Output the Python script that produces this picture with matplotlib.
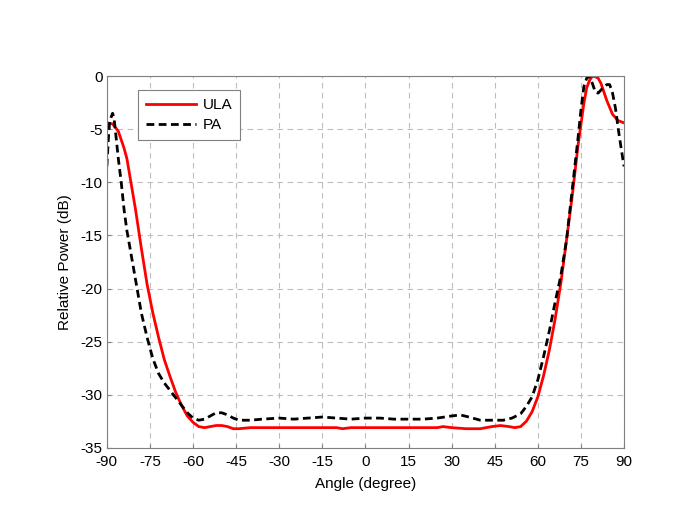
import matplotlib.pyplot as plt

plt.rcParams['font.family'] = ['Liberation Sans', 'DejaVu Sans']
plt.rcParams['axes.unicode_minus'] = False

# ULA curve (angle in degree, relative power in dB)
ula_angle = [-90, -88, -86, -84, -83, -82, -80, -78, -76, -74, -72, -70, -68, -66, -64, -62, -60,
             -58, -56, -54, -52, -50, -48, -46, -44, -40, -35, -30, -25, -20, -15, -10, -8, -5,
             0, 10, 20, 25, 27, 30, 35, 40, 44, 47, 50, 52, 54, 56, 58, 60, 62, 64, 66, 68, 70,
             72, 74, 76, 77, 78, 79, 80, 81, 82, 84, 86, 88, 90]
ula_power = [-4.4, -4.5, -5.2, -6.8, -7.8, -9.4, -12.6, -16.2, -19.6, -22.3, -24.6, -26.7, -28.3,
             -29.8, -31.0, -32.0, -32.6, -33.0, -33.1, -33.0, -32.9, -32.9, -33.0, -33.2, -33.2,
             -33.1, -33.1, -33.1, -33.1, -33.1, -33.1, -33.1, -33.2, -33.1, -33.1, -33.1, -33.1,
             -33.1, -33.0, -33.1, -33.2, -33.2, -33.0, -32.9, -33.0, -33.1, -33.0, -32.5, -31.6,
             -30.2, -28.2, -25.8, -22.9, -19.5, -15.4, -11.2, -6.5, -2.6, -1.1, -0.4, 0.0,
             -0.05, -0.2, -0.7, -2.3, -3.6, -4.2, -4.4]

# PA curve
pa_angle = [-90, -89.5, -89, -88, -87.5, -87, -86, -85, -84, -83, -82, -80, -78, -76, -74, -72,
            -70, -68, -66, -64, -62, -60, -58, -56, -54, -52, -50, -48, -46, -44, -40, -36, -30,
            -25, -20, -15, -10, -5, 0, 5, 10, 15, 20, 25, 30, 33, 36, 40, 44, 48, 51, 54, 56, 58,
            60, 62, 64, 66, 68, 70, 72, 74, 75, 76, 77, 78, 79, 80, 81, 82, 83, 84, 85, 86, 87,
            88, 89, 90]
pa_power = [-8.5, -6.0, -4.2, -3.5, -4.0, -5.2, -7.8, -10.0, -12.6, -14.6, -16.1, -19.2, -22.3,
            -24.6, -26.6, -28.0, -28.9, -29.6, -30.3, -31.0, -31.7, -32.2, -32.4, -32.3, -32.0,
            -31.7, -31.7, -31.9, -32.2, -32.4, -32.4, -32.3, -32.2, -32.3, -32.2, -32.1, -32.2,
            -32.3, -32.2, -32.2, -32.3, -32.3, -32.3, -32.2, -32.0, -31.9, -32.1, -32.4, -32.4,
            -32.4, -32.2, -31.8, -31.1, -30.2, -28.6, -26.4, -24.0, -21.3, -18.8, -15.4, -10.6,
            -5.8, -3.2, -1.0, -0.2, 0.0, -0.7, -1.5, -1.6, -1.3, -1.0, -0.8, -0.8, -1.6, -3.0,
            -5.0, -6.8, -8.5]

x_ticks = list(range(-90, 91, 15))
y_ticks = list(range(-35, 1, 5))

fig = plt.figure(figsize=(6.85, 5.25), dpi=100)
ax = fig.add_axes([0.156, 0.147, 0.755, 0.708])

ax.plot(ula_angle, ula_power, color='red', lw=2, label='ULA')
ax.plot(pa_angle, pa_power, color='black', lw=2, linestyle=(0, (2.8, 1.6)), label='PA')

ax.set_xlim(-90, 90)
ax.set_ylim(-35, 0)
ax.set_xticks(x_ticks)
ax.set_yticks(y_ticks)
ax.tick_params(direction='in', length=3, color='#808080', labelsize=11)
ax.tick_params(axis='x', pad=5)
ax.tick_params(axis='y', pad=3)
for s in ax.spines.values():
    s.set_color('#808080')
    s.set_linewidth(0.8)

ax.grid(True, linestyle=(0, (5, 4)), color='#bdbdbd', lw=0.8)
ax.set_axisbelow(True)

ax.set_xlabel('Angle (degree)', fontsize=11, labelpad=6)
ax.set_ylabel('Relative Power (dB)', fontsize=11, labelpad=6)

leg = ax.legend(loc='upper left', bbox_to_anchor=(0.06, 0.962), borderaxespad=0,
                fontsize=11, handlelength=3.3, handletextpad=0.45, fancybox=False,
                framealpha=1, borderpad=0.5, labelspacing=0.4)
leg.get_frame().set_edgecolor('#808080')
leg.get_frame().set_linewidth(0.8)

plt.savefig('out.png', dpi=100)
